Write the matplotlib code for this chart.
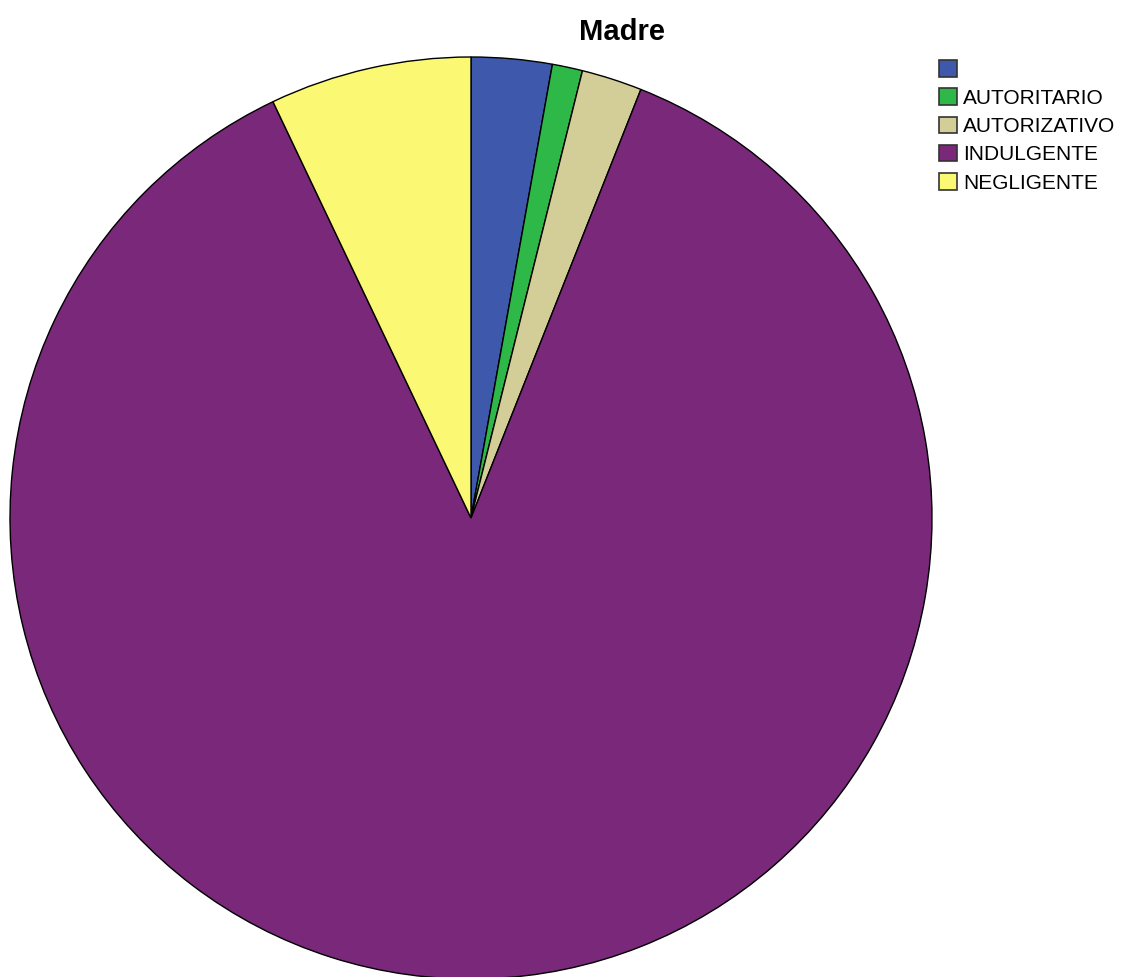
import matplotlib.pyplot as plt
from matplotlib.patches import Patch

labels = ["", "AUTORITARIO", "AUTORIZATIVO", "INDULGENTE", "NEGLIGENTE"]
counts = [8, 3, 6, 246, 20]
colors = ["#3E58AC", "#2EB848", "#D3CE97", "#79287A", "#FBF873"]

plt.rcParams["font.family"] = ["Liberation Sans", "DejaVu Sans"]

W, H = 1125, 977
fig = plt.figure(figsize=(W / 100, H / 100), dpi=100)

cx, cy, r = 471, 518, 461
ax = fig.add_axes([(cx - r) / W, (H - cy - r) / H, 2 * r / W, 2 * r / H])
ax.pie(counts, colors=colors, startangle=90, counterclock=False,
       wedgeprops=dict(edgecolor="black", linewidth=1.0))
ax.set_xlim(-1, 1)
ax.set_ylim(-1, 1)
ax.set_aspect("equal")
ax.axis("off")

fig.text(622 / W, 1 - 32 / H, "Madre", ha="center", va="center",
         fontsize=21, fontweight="bold")

# legend: square swatches, no frame, top right
handles = [Patch(facecolor=c, edgecolor="#333333", linewidth=1.2) for c in colors]
fig.legend(handles, labels, loc="upper left", bbox_to_anchor=(939 / W, 1 - 60 / H),
           frameon=False, fontsize=15, handlelength=0.85, handleheight=0.85,
           handletextpad=0.3, labelspacing=0.42, borderpad=0, borderaxespad=0)

fig.savefig("out.png", dpi=100)
